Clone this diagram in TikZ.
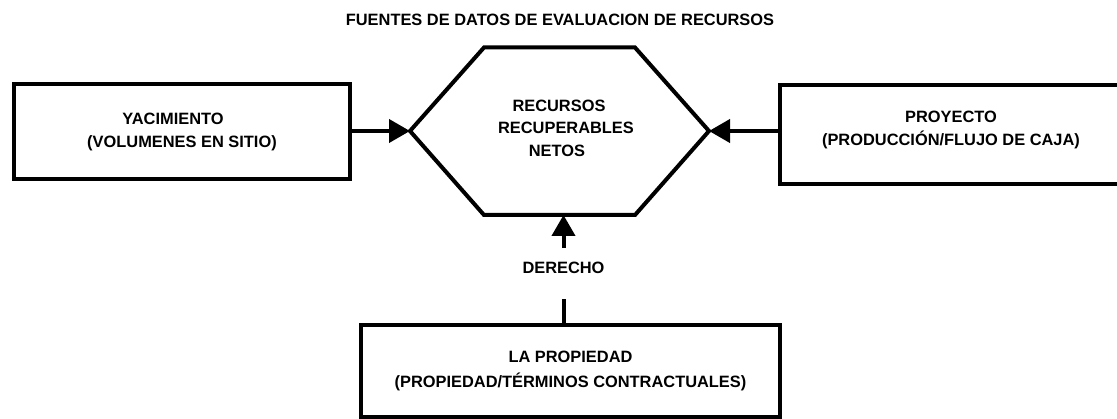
\documentclass[tikz,border=0pt]{standalone}
\usepackage{fontspec}
\setmainfont{Liberation Sans}
\usetikzlibrary{arrows.meta}
\begin{document}
\begin{tikzpicture}[x=1pt,y=-1pt,line width=4pt,
  txt/.style={font=\bfseries\fontsize{16.4}{23}\selectfont},
  box/.style={draw,line width=4pt,align=center,inner sep=0pt,txt},
  lbl/.style={align=center,inner sep=0pt,txt},
  arr/.style={-{Triangle[length=21pt,width=23pt]},line width=4pt}]
\useasboundingbox (0,0) rectangle (1117,419);
\clip (0,0) rectangle (1117,419);
% title
\node[lbl] (title) at (560,20) {FUENTES DE DATOS DE EVALUACION DE RECURSOS};
% boxes
\node[box,minimum width=336pt,minimum height=95.5pt] (yac) at (182,131.75)
  {YACIMIENTO\hspace*{18pt}\\(VOLUMENES EN SITIO)};
\node[box,minimum width=341.5pt,minimum height=99.5pt,text depth=12pt] (proy) at (951,134.75)
  {PROYECTO\\(PRODUCCIÓN/FLUJO DE CAJA)};
\node[box,minimum width=419pt,minimum height=92pt,
  font=\bfseries\fontsize{16.4}{25}\selectfont] (prop) at (570.5,371)
  {LA PROPIEDAD\\(PROPIEDAD/TÉRMINOS CONTRACTUALES)};
% hexagon
\coordinate (hW) at (410,131);
\coordinate (hNW) at (484,47.5);
\coordinate (hNE) at (635,47.5);
\coordinate (hE) at (709,131);
\coordinate (hSE) at (635,215);
\coordinate (hSW) at (484,215);
\coordinate (hS) at (564,215);
\draw[line join=miter] (hW) -- (hNW) -- (hNE) -- (hE) -- (hSE) -- (hSW) -- cycle;
\node[lbl,font=\bfseries\fontsize{16.4}{22.5}\selectfont] (hex) at (566,128)
  {RECURSOS\hspace*{14pt}\\RECUPERABLES\\NETOS\hspace*{18pt}};
% derecho
\node[lbl] (der) at (563.5,268) {DERECHO};
% connectors
\draw[arr] (yac.east |- hW) -- (hW);
\draw[arr] (proy.west |- hE) -- (hE);
\draw[arr] ([yshift=12pt]der.north) -- (der.north |- hS);
\draw (prop.north -| der) -- ([yshift=-23pt]der.south);
\end{tikzpicture}
\end{document}
